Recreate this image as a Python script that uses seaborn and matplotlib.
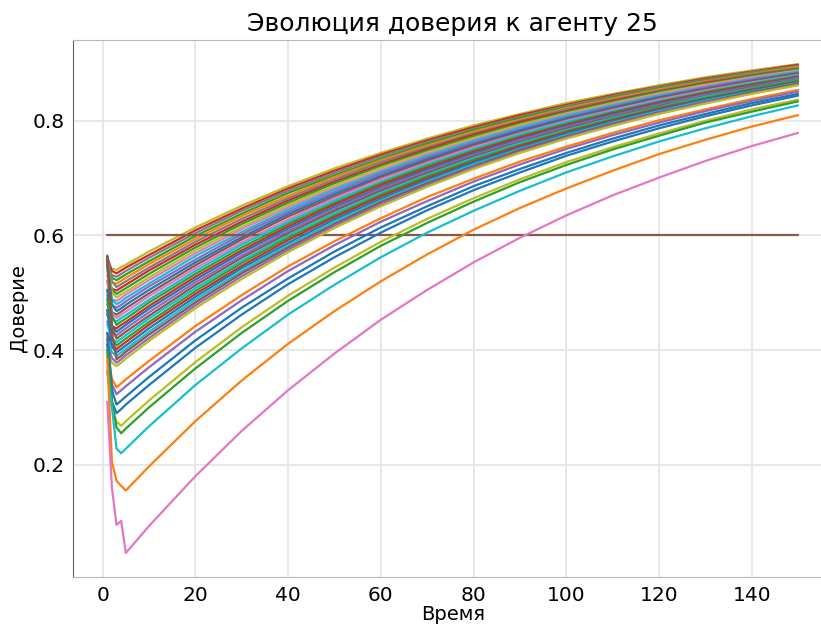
import pandas as pd
import seaborn as sns
import matplotlib.pyplot as plt

TIMES = [1, 2, 3, 4, 5, 10, 20, 30, 40, 50, 60, 70, 80, 90, 100, 110, 120, 130, 140, 150]

# dense upper group of agents: trust values at TIMES
BUNDLE = [
    [.548, .542, .540, .545, .549, .572, .614, .652, .686, .717, .744, .769, .792, .812, .831, .847, .862, .876, .888, .899],
    [.562, .538, .534, .539, .544, .566, .609, .647, .682, .713, .741, .766, .789, .810, .828, .845, .860, .874, .886, .898],
    [.545, .531, .528, .533, .538, .561, .604, .643, .678, .709, .738, .763, .786, .807, .826, .843, .859, .872, .885, .896],
    [.556, .526, .522, .527, .532, .555, .599, .638, .674, .705, .734, .760, .784, .805, .824, .841, .857, .871, .883, .895],
    [.530, .518, .516, .521, .526, .550, .594, .634, .669, .702, .731, .757, .781, .802, .822, .839, .855, .869, .882, .894],
    [.565, .520, .510, .515, .520, .544, .589, .629, .665, .698, .728, .754, .778, .800, .820, .837, .853, .868, .881, .892],
    [.520, .507, .504, .509, .514, .539, .584, .624, .661, .694, .724, .751, .776, .798, .817, .835, .851, .866, .879, .891],
    [.548, .505, .498, .503, .508, .533, .579, .620, .657, .691, .721, .748, .773, .795, .815, .833, .850, .864, .878, .890],
    [.560, .500, .492, .497, .502, .527, .574, .615, .653, .687, .718, .745, .770, .793, .813, .831, .848, .863, .876, .888],
    [.505, .489, .486, .491, .497, .522, .569, .611, .649, .683, .714, .742, .767, .790, .811, .829, .846, .861, .875, .887],
    [.540, .488, .480, .485, .491, .516, .564, .606, .645, .680, .711, .739, .765, .788, .809, .827, .844, .859, .873, .886],
    [.495, .478, .474, .479, .485, .511, .558, .602, .641, .676, .708, .736, .762, .785, .806, .825, .842, .858, .872, .884],
    [.563, .480, .468, .473, .479, .505, .553, .597, .637, .672, .704, .733, .759, .783, .804, .823, .841, .856, .870, .883],
    [.480, .466, .462, .467, .473, .499, .548, .593, .633, .668, .701, .730, .757, .780, .802, .821, .839, .855, .869, .882],
    [.520, .465, .456, .462, .467, .494, .543, .588, .628, .665, .698, .727, .754, .778, .800, .819, .837, .853, .867, .880],
    [.470, .454, .450, .456, .461, .488, .538, .584, .624, .661, .694, .724, .751, .776, .798, .817, .835, .851, .866, .879],
    [.555, .460, .444, .450, .455, .483, .533, .579, .620, .657, .691, .721, .748, .773, .795, .815, .833, .850, .864, .878],
    [.462, .442, .438, .444, .449, .477, .528, .574, .616, .654, .688, .718, .746, .771, .793, .813, .832, .848, .863, .876],
    [.505, .442, .432, .438, .444, .472, .523, .570, .612, .650, .684, .715, .743, .768, .791, .811, .830, .846, .861, .875],
    [.450, .430, .426, .432, .438, .466, .518, .565, .608, .646, .681, .712, .740, .766, .789, .809, .828, .845, .860, .874],
    [.560, .440, .420, .426, .432, .460, .513, .561, .604, .643, .678, .709, .738, .763, .787, .807, .826, .843, .859, .872],
    [.445, .420, .414, .420, .426, .455, .508, .556, .600, .639, .674, .706, .735, .761, .784, .805, .824, .842, .857, .871],
    [.490, .420, .408, .414, .420, .449, .503, .552, .596, .635, .671, .703, .732, .758, .782, .803, .823, .840, .856, .870],
    [.430, .408, .402, .408, .414, .444, .498, .547, .592, .632, .668, .700, .729, .756, .780, .801, .821, .838, .854, .868],
    [.470, .406, .396, .402, .408, .438, .493, .543, .587, .628, .664, .697, .727, .753, .778, .799, .819, .837, .853, .867],
    [.420, .396, .390, .396, .402, .432, .488, .538, .583, .624, .661, .694, .724, .751, .775, .797, .817, .835, .851, .866],
    [.564, .430, .384, .390, .397, .427, .483, .534, .579, .620, .658, .691, .721, .749, .773, .795, .815, .833, .850, .865],
    [.410, .386, .378, .384, .391, .421, .478, .529, .575, .617, .654, .688, .719, .746, .771, .793, .814, .832, .848, .863],
    [.395, .378, .372, .378, .385, .416, .473, .524, .571, .613, .651, .685, .716, .744, .769, .791, .812, .830, .847, .862],
]
BUNDLE_COLORS = ["C8", "C3", "C7", "C2", "C1", "C7", "C3", "C2", "C8", "C6",
                 "C9", "C4", "C0", "C5", "C6", "C9", "C2", "C3", "C0", "C4",
                 "C5", "C9", "C2", "C3", "C0", "C9", "C5", "C4", "C8"]

# agent 25 itself
SELF_TRUST = [.6, .6, .6, .6, .6, .6, .6, .6, .6, .6, .6, .6, .6, .6, .6, .6, .6, .6, .6, .6]

# lower, slower agents
LOW_LINES = [
    [.390, .350, .335, .342, .349, .381, .442, .496, .546, .590, .630, .667, .699, .729, .755, .779, .801, .820, .838, .854],
    [.420, .340, .323, .330, .337, .370, .432, .487, .538, .583, .624, .660, .694, .724, .751, .775, .797, .817, .835, .851],
    [.430, .330, .305, .312, .319, .353, .417, .474, .525, .572, .614, .651, .686, .716, .744, .769, .792, .812, .831, .847],
    [.410, .310, .290, .297, .305, .339, .404, .462, .515, .562, .605, .644, .679, .710, .739, .764, .787, .808, .827, .844],
    [.360, .300, .275, .268, .276, .312, .379, .440, .495, .544, .589, .629, .665, .698, .728, .754, .778, .800, .820, .837],
    [.400, .310, .265, .255, .263, .300, .368, .430, .486, .536, .582, .622, .659, .693, .723, .750, .774, .797, .816, .834],
    [.365, .300, .228, .220, .228, .267, .339, .403, .462, .514, .562, .605, .643, .678, .710, .738, .764, .787, .808, .827],
    [.385, .205, .172, .163, .155, .197, .276, .347, .411, .468, .520, .567, .610, .648, .682, .713, .742, .767, .790, .810],
    [.310, .160, .095, .102, .046, .093, .180, .259, .330, .394, .453, .505, .553, .596, .635, .670, .701, .730, .756, .779],
]
LOW_COLORS = ["C1", "C4", "C0", "C0", "C8", "C2", "C9", "C1", "C6"]

tab10 = sns.color_palette("tab10")

rows = []
palette = {}
order = []


def add_line(name, values, color):
    for t, v in zip(TIMES, values):
        rows.append({"agent": name, "t": t, "trust": v})
    palette[name] = tab10[int(color[1])]
    order.append(name)


for i, vals in enumerate(BUNDLE[:15]):
    add_line("b%d" % i, vals, BUNDLE_COLORS[i])
add_line("self", SELF_TRUST, "C5")
for i, vals in enumerate(BUNDLE[15:], start=15):
    add_line("b%d" % i, vals, BUNDLE_COLORS[i])
for i, vals in enumerate(LOW_LINES):
    add_line("l%d" % i, vals, LOW_COLORS[i])

df = pd.DataFrame(rows)

sns.set_style("whitegrid")
plt.rcParams['font.family'] = ['DejaVu Sans']
plt.rcParams['text.color'] = 'black'
plt.rcParams['axes.labelcolor'] = 'black'
plt.rcParams['xtick.color'] = 'black'
plt.rcParams['ytick.color'] = 'black'

fig = plt.figure(figsize=(8.21, 6.26), dpi=100)
ax = fig.add_axes([0.0886, 0.0776, 0.9255, 0.859])
sns.lineplot(data=df, x="t", y="trust", hue="agent", hue_order=order,
             palette=palette, legend=False, errorbar=None, linewidth=1.6, ax=ax)

ax.grid(True, color="#e6e6e6", linewidth=1.3)
for side in ["top", "bottom", "right"]:
    ax.spines[side].set_color("#b8b8b8")
ax.spines["left"].set_color("#5e5e6e")
ax.tick_params(axis="both", length=4, width=1, color="#444444", labelsize=14.5, pad=2)
ax.set_title("Эволюция доверия к агенту 25", fontsize=18)
ax.set_xlabel("Время", fontsize=14, labelpad=0)
ax.set_ylabel("Доверие", fontsize=14, labelpad=3)
ax.margins(x=0.05, y=0.05)

fig.savefig("out.png", dpi=100)
